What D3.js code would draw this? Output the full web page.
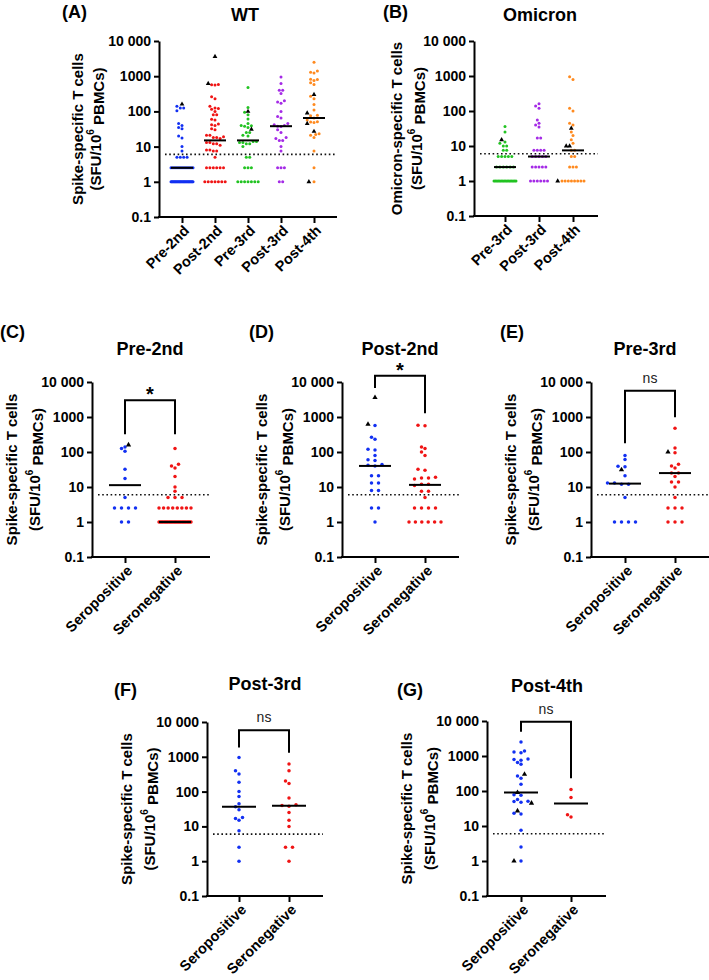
<!DOCTYPE html>
<html><head><meta charset="utf-8">
<script src="https://cdn.jsdelivr.net/npm/d3@7"></script>
<style>
html,body{margin:0;padding:0;background:#fff;}
svg{display:block;font-family:"Liberation Sans",Arial,Helvetica,sans-serif;}
</style></head><body>
<svg id="chart" width="709" height="980"></svg>
<script>
// ================= DATA =================
const yTickValues = [0.1, 1, 10, 100, 1000, 10000];
const yTickLabels = ["0.1", "1", "10", "100", "1000", "10 000"];
const lodThreshold = 6;

// ---- Panel A : WT ----
const wtCategories = ["Pre-2nd", "Post-2nd", "Pre-3rd", "Post-3rd", "Post-4th"];
const wtPre2nd = [1,1,1,1,1,1,1,1,1,1,1,1,1,1,1,1,1,1,1,1,1,1,1,1,1,1,1,1,
  2.5,2.5,2.5,2.5,2.5,2.5,2.5,2.5,2.5,2.5,2.5,2.5, 5,5,5,5, 7.5, 10, 17.5, 20, 32, 35, 40, 45, 105, 125, 125, 140];
const wtPost2nd = [1,1,1,1,1,1,1, 2.5,2.5,2.5,2.5,2.5,2.5, 5, 7.5, 7.5, 8, 8, 11, 12, 12, 13, 13, 17, 18, 18, 19,
  21, 21, 30, 32, 40, 42, 44, 57, 60, 80, 80, 100, 115, 120, 125, 140, 230, 262, 560, 570, 580];
const wtPre3rd = [1,1,1,1,1,1,1, 2.5,2.5,2.5, 5,5, 10, 12, 12, 13, 13, 14, 14, 20, 21, 25, 25, 35, 38, 39, 40, 45, 61, 80, 95, 130, 480];
const wtPost3rd = [1,1, 2.5,2.5,2.5, 7.5, 10, 15, 15, 17, 18, 25, 30, 37, 38, 40, 42, 45, 65, 72, 100, 170, 185, 200, 320, 400, 400, 620, 950];
const wtPost4th = [1, 2.5, 7.5, 18, 21, 22, 23, 48, 50, 51, 57, 65, 75, 78, 110, 157, 230, 270, 580, 650, 750, 800, 820, 1240, 1300, 1400, 2500];
const wtTriPre2nd = [160];
const wtTriPost2nd = [620, 3600];
const wtTriPre3rd = [31, 100];
const wtTriPost3rd = [];
const wtTriPost4th = [1, 27, 45, 90, 300];
const wtMedians = [2.5, 15, 15, 38, 65];

// ---- Panel B : Omicron ----
const omCategories = ["Pre-3rd", "Post-3rd", "Post-4th"];
const omPre3rd = [1,1,1,1,1,1,1,1,1,1,1,1,1,1,1,1, 2.5,2.5,2.5,2.5,2.5,2.5, 5,5,5,5,5, 7.5, 7.5, 10, 10, 12, 13, 25, 36];
const omPost3rd = [1,1,1,1,1,1, 2.5,2.5,2.5,2.5,2.5, 5,5,5,5,5, 7.5,7.5,7.5,7.5, 17, 17, 35, 40, 45, 55, 120, 140, 160];
const omPost4th = [1,1,1,1,1,1,1,1, 2.5,2.5,2.5, 5, 5, 7.5, 7.5, 12, 15, 20, 25, 40, 45, 100, 120, 800, 950];
const omTriPre3rd = [15];
const omTriPost3rd = [];
const omTriPost4th = [1, 10, 10, 32];
const omMedians = [2.5, 5, 7.5];

// ---- Panels C-G : serostatus ----
const seroCategories = ["Seropositive", "Seronegative"];

const pre2ndSeropos = [1, 1, 2.5, 2.5, 2.5, 2.5, 5, 17.5, 32, 105, 125, 140];
const pre2ndSeroneg = [1,1,1,1,1,1,1,1,1,1,1,1,1,1,1,1,1,1,1,1,1,1,1,1,1,1,
  2.5,2.5,2.5,2.5,2.5,2.5,2.5,2.5, 5,5,5, 7.5, 10, 20, 35, 40, 45, 125];
const pre2ndTriSeropos = [160];
const pre2ndTriSeroneg = [];
const pre2ndMedians = [11.3, 1];
const pre2ndBracket = [3000, 320, 320]; // top, left end, right end
const pre2ndSig = "*";

const post2ndSeropos = [1, 2.5, 2.5, 8, 8, 13, 13, 21, 21, 40, 42, 44, 57, 60, 80, 115, 120, 230, 262, 570];
const post2ndSeroneg = [1,1,1,1,1,1, 2.5,2.5,2.5,2.5, 5, 7.5, 7.5, 11, 12, 12, 17, 18, 18, 19, 30, 32, 80, 100, 125, 140, 560, 580];
const post2ndTriSeropos = [620, 3600];
const post2ndTriSeroneg = [];
const post2ndMedians = [40, 11.5];
const post2ndBracket = [15000, 6700, 1270];
const post2ndSig = "*";

const pre3rdSeropos = [1, 1, 1, 1, 5, 12, 12, 13, 13, 21, 38, 39, 61, 80];
const pre3rdSeroneg = [1, 1, 1, 2.5, 2.5, 2.5, 5, 10, 14, 14, 20, 25, 25, 35, 40, 45, 95, 130, 480];
const pre3rdTriSeropos = [31];
const pre3rdTriSeroneg = [100];
const pre3rdMedians = [12.5, 25];
const pre3rdBracket = [5600, 177, 990];
const pre3rdSig = "ns";

const post3rdSeropos = [1, 2.5, 7.5, 15, 17, 18, 30, 37, 45, 72, 100, 185, 320, 400, 950];
const post3rdSeroneg = [1, 2.5, 2.5, 10, 15, 25, 38, 40, 42, 65, 170, 200, 400, 620];
const post3rdTriSeropos = [];
const post3rdTriSeroneg = [];
const post3rdMedians = [37, 39];
const post3rdBracket = [5800, 1860, 1300];
const post3rdSig = "ns";

const post4thSeropos = [1, 2.5, 7.5, 22, 23, 48, 50, 51, 57, 75, 78, 157, 230, 270, 580, 650, 750, 800, 820, 1240, 1300, 1400, 2500];
const post4thSeroneg = [18, 21, 65, 110];
const post4thTriSeropos = [1, 27, 45, 90, 300];
const post4thTriSeroneg = [];
const post4thMedians = [90, 44];
const post4thBracket = [9500, 4900, 230];
const post4thSig = "ns";

// ================= STYLE / LAYOUT =================
const BLUE = "#1230f2", RED = "#f01414", GREEN = "#22c322", PURPLE = "#a42ae6", ORANGE = "#ff8a1f";
const FONT_TICK = 14, FONT_XLAB = 14.5, FONT_YLAB = 15, FONT_TITLE = 18, FONT_LETTER = 18;
const spikeLabel = "Spike-specific T cells";

const panels = [
  { letter: "(A)", letterX: 62, letterY: 18, title: "WT", titleX: 245, titleY: 21,
    yLabel: spikeLabel, yOff: [-82, -64],
    axisX: 159, top: 41, bottom: 217, tick0: 182, tick1: 314, endX: 337,
    cats: wtCategories, dots: [wtPre2nd, wtPost2nd, wtPre3rd, wtPost3rd, wtPost4th],
    tris: [wtTriPre2nd, wtTriPost2nd, wtTriPre3rd, wtTriPost3rd, wtTriPost4th],
    medians: wtMedians, colors: [BLUE, RED, GREEN, PURPLE, ORANGE],
    r: 1.5, spacing: 3.4, maxHalf: 11, medHalf: 11, triSize: 10 },
  { letter: "(B)", letterX: 383, letterY: 18, title: "Omicron", titleX: 540, titleY: 21,
    yLabel: "Omicron-specific T cells", yOff: [-78, -58],
    axisX: 474, top: 41, bottom: 216, tick0: 505, tick1: 573, endX: 598,
    cats: omCategories, dots: [omPre3rd, omPost3rd, omPost4th],
    tris: [omTriPre3rd, omTriPost3rd, omTriPost4th],
    medians: omMedians, colors: [GREEN, PURPLE, ORANGE],
    r: 1.5, spacing: 3.4, maxHalf: 11, medHalf: 11, triSize: 10 },
  { letter: "(C)", letterX: 0, letterY: 338, title: "Pre-2nd", titleX: 150, titleY: 355,
    yLabel: spikeLabel, yOff: [-81, -58],
    axisX: 92, top: 382, bottom: 557, tick0: 125, tick1: 175, endX: 210,
    cats: seroCategories, dots: [pre2ndSeropos, pre2ndSeroneg], tris: [pre2ndTriSeropos, pre2ndTriSeroneg],
    medians: pre2ndMedians, colors: [BLUE, RED], bracket: pre2ndBracket, sig: pre2ndSig,
    r: 1.75, spacing: 7, maxHalf: 16, medHalf: 16, triSize: 12 },
  { letter: "(D)", letterX: 249, letterY: 338, title: "Post-2nd", titleX: 400, titleY: 355,
    yLabel: spikeLabel, yOff: [-81, -58],
    axisX: 342, top: 382, bottom: 557, tick0: 375, tick1: 425, endX: 459,
    cats: seroCategories, dots: [post2ndSeropos, post2ndSeroneg], tris: [post2ndTriSeropos, post2ndTriSeroneg],
    medians: post2ndMedians, colors: [BLUE, RED], bracket: post2ndBracket, sig: post2ndSig,
    r: 1.75, spacing: 7, maxHalf: 16, medHalf: 16, triSize: 12 },
  { letter: "(E)", letterX: 500, letterY: 338, title: "Pre-3rd", titleX: 645, titleY: 355,
    yLabel: spikeLabel, yOff: [-81, -58],
    axisX: 591, top: 382, bottom: 557, tick0: 625, tick1: 675, endX: 709,
    cats: seroCategories, dots: [pre3rdSeropos, pre3rdSeroneg], tris: [pre3rdTriSeropos, pre3rdTriSeroneg],
    medians: pre3rdMedians, colors: [BLUE, RED], bracket: pre3rdBracket, sig: pre3rdSig,
    r: 1.75, spacing: 7, maxHalf: 16, medHalf: 16, triSize: 12 },
  { letter: "(F)", letterX: 114, letterY: 696, title: "Post-3rd", titleX: 265, titleY: 690,
    yLabel: spikeLabel, yOff: [-81, -58],
    axisX: 207, top: 722, bottom: 896, tick0: 239, tick1: 289, endX: 323,
    cats: seroCategories, dots: [post3rdSeropos, post3rdSeroneg], tris: [post3rdTriSeropos, post3rdTriSeroneg],
    medians: post3rdMedians, colors: [BLUE, RED], bracket: post3rdBracket, sig: post3rdSig,
    r: 1.75, spacing: 7, maxHalf: 16, medHalf: 17, triSize: 12 },
  { letter: "(G)", letterX: 397, letterY: 696, title: "Post-4th", titleX: 547, titleY: 692,
    yLabel: spikeLabel, yOff: [-81, -58],
    axisX: 487, top: 721, bottom: 896, tick0: 521, tick1: 571, endX: 606,
    cats: seroCategories, dots: [post4thSeropos, post4thSeroneg], tris: [post4thTriSeropos, post4thTriSeroneg],
    medians: post4thMedians, colors: [BLUE, RED], bracket: post4thBracket, sig: post4thSig,
    r: 1.75, spacing: 7, maxHalf: 16, medHalf: 17, triSize: 12 }
];

// ================= DRAW =================
const svg = d3.select("#chart");

function swarm(values, cx, y, spacing, maxHalf, minDist, placed) {
  const groups = d3.groups(values, v => v).sort((a, b) => b[1].length - a[1].length);
  const out = [];
  groups.forEach(([v, arr]) => {
    const n = arr.length, py = y(v);
    let sp = spacing;
    if (n > 1 && (n - 1) * sp > 2 * maxHalf) sp = 2 * maxHalf / (n - 1);
    const base = arr.map((_, i) => (i - (n - 1) / 2) * sp);
    const shifts = [0];
    for (let k = 1; k <= 14; k++) shifts.push(-k * spacing / 2, k * spacing / 2);
    let chosen = 0;
    for (const s of shifts) {
      const ok = base.every(b => placed.every(p => {
        const dx = cx + b + s - p.x, dy = py - p.y;
        return dx * dx + dy * dy >= minDist * minDist;
      }));
      if (ok) { chosen = s; break; }
    }
    base.forEach(b => { const pt = { v, x: cx + b + chosen, y: py }; placed.push(pt); out.push(pt); });
  });
  return out;
}

panels.forEach(p => {
  const g = svg.append("g");
  const y = d3.scaleLog().domain([0.1, 10000]).range([p.bottom, p.top]);
  const x = d3.scalePoint().domain(p.cats).range([p.tick0, p.tick1]);

  // letter and title
  g.append("text").attr("x", p.letterX).attr("y", p.letterY).attr("font-size", FONT_LETTER)
    .attr("font-weight", "bold").text(p.letter);
  g.append("text").attr("x", p.titleX).attr("y", p.titleY).attr("font-size", FONT_TITLE)
    .attr("font-weight", "bold").attr("text-anchor", "middle").text(p.title);

  // y label
  const cy = (p.top + p.bottom) / 2;
  const l1x = p.axisX + p.yOff[0], l2x = p.axisX + p.yOff[1];
  g.append("text").attr("x", l1x).attr("y", cy).attr("transform", `rotate(-90,${l1x},${cy})`)
    .attr("text-anchor", "middle").attr("dominant-baseline", "central")
    .attr("font-size", FONT_YLAB).attr("font-weight", "bold").text(p.yLabel);
  const t2 = g.append("text").attr("x", l2x).attr("y", cy).attr("transform", `rotate(-90,${l2x},${cy})`)
    .attr("text-anchor", "middle").attr("dominant-baseline", "central")
    .attr("font-size", FONT_YLAB).attr("font-weight", "bold");
  t2.append("tspan").text("(SFU/10");
  t2.append("tspan").attr("font-size", 10).attr("dy", "-0.5em").text("6");
  t2.append("tspan").attr("dy", "0.5em").text(" PBMCs)");

  // y axis
  const ya = g.append("g").attr("transform", `translate(${p.axisX},0)`)
    .call(d3.axisLeft(y).tickValues(yTickValues).tickFormat((d, i) => yTickLabels[i])
      .tickSize(5).tickPadding(3).tickSizeOuter(0));
  ya.select(".domain").attr("stroke", "#000").attr("stroke-width", 2);
  ya.selectAll(".tick line").attr("stroke", "#000").attr("stroke-width", 2);
  ya.selectAll(".tick text").attr("font-size", FONT_TICK).attr("font-weight", "bold")
    .attr("fill", "#000").attr("font-family", "'Liberation Sans',Arial,sans-serif");

  // x axis
  const xa = g.append("g").attr("transform", `translate(0,${p.bottom})`)
    .call(d3.axisBottom(x).tickSize(6).tickSizeOuter(0));
  xa.select(".domain").remove();
  xa.append("line").attr("x1", p.axisX - 1).attr("x2", p.endX).attr("y1", 0).attr("y2", 0)
    .attr("stroke", "#000").attr("stroke-width", 2);
  xa.selectAll(".tick line").attr("stroke", "#000").attr("stroke-width", 2);
  xa.selectAll(".tick text").attr("font-size", FONT_XLAB).attr("font-weight", "bold")
    .attr("fill", "#000").attr("font-family", "'Liberation Sans',Arial,sans-serif")
    .attr("x", 0).attr("y", 0).attr("dy", "0.35em")
    .attr("transform", "translate(4,11) rotate(-45)").style("text-anchor", "end");

  // threshold dotted line
  g.append("line").attr("x1", p.axisX + 6).attr("x2", p.endX)
    .attr("y1", y(lodThreshold)).attr("y2", y(lodThreshold))
    .attr("stroke", "#111").attr("stroke-width", 1.6).attr("stroke-dasharray", "1.6,2.6");

  // points
  p.cats.forEach((c, i) => {
    const placed = [];
    const cx = x(c);
    const pts = swarm(p.dots[i], cx, y, p.spacing, p.maxHalf, p.r * 2 + 0.4, placed);
    g.append("g").selectAll("circle").data(pts).join("circle")
      .attr("cx", d => d.x).attr("cy", d => d.y).attr("r", p.r).attr("fill", p.colors[i]);
    // median
    g.append("line").attr("x1", cx - p.medHalf).attr("x2", cx + p.medHalf)
      .attr("y1", y(p.medians[i])).attr("y2", y(p.medians[i]))
      .attr("stroke", "#000").attr("stroke-width", 2);
    // triangles
    const tpts = swarm(p.tris[i], cx, y, p.spacing, p.maxHalf, p.r * 2 + 0.4, placed);
    g.append("g").selectAll("path").data(tpts).join("path")
      .attr("transform", d => `translate(${d.x},${d.y})`)
      .attr("d", d3.symbol(d3.symbolTriangle, p.triSize)).attr("fill", "#000");
  });

  // significance bracket
  if (p.bracket) {
    const [bt, bl, br] = p.bracket;
    const xl = x(p.cats[0]), xr = x(p.cats[1]);
    g.append("path")
      .attr("d", `M${xl},${y(bl)}V${y(bt)}H${xr}V${y(br)}`)
      .attr("fill", "none").attr("stroke", "#000").attr("stroke-width", 2);
    if (p.sig === "*") {
      g.append("text").attr("x", (xl + xr) / 2).attr("y", y(bt) + 1).attr("text-anchor", "middle")
        .attr("font-size", 20).attr("font-weight", "bold").text(p.sig);
    } else {
      g.append("text").attr("x", (xl + xr) / 2).attr("y", y(bt) - 8).attr("text-anchor", "middle")
        .attr("font-size", 14).attr("fill", "#222").text(p.sig);
    }
  }
});
</script>
</body></html>
